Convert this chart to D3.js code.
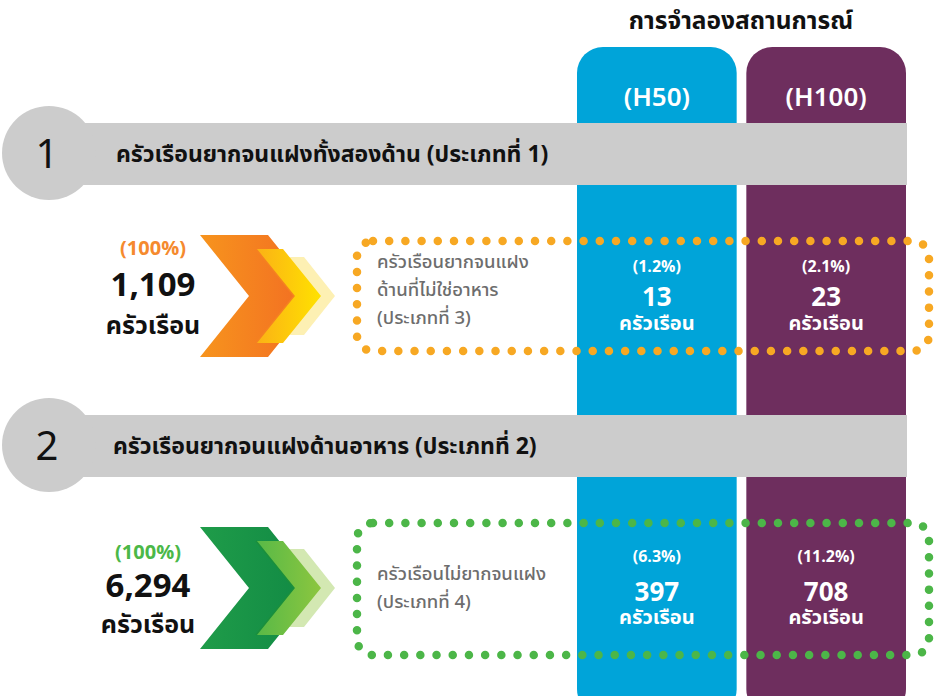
<!DOCTYPE html>
<html>
<head>
<meta charset="utf-8">
<script src="https://cdn.jsdelivr.net/npm/d3@7"></script>
<style>
body { margin: 0; background: #fff; }
text { font-family: "Noto Sans Thai", "Noto Sans Thai UI", "Noto Sans", "DejaVu Sans", sans-serif; }
</style>
</head>
<body>
<div id="main"></div>
<script>
// ข้อมูลของแผนภาพ
var groups = ["1", "2"];
var groupTitles = ["ครัวเรือนยากจนแฝงทั้งสองด้าน (ประเภทที่ 1)", "ครัวเรือนยากจนแฝงด้านอาหาร (ประเภทที่ 2)"];
var groupTotals = [1109, 6294];
var groupShares = [100, 100];
var boxLabels = [
	["ครัวเรือนยากจนแฝง", "ด้านที่ไม่ใช่อาหาร", "(ประเภทที่ 3)"],
	["ครัวเรือนไม่ยากจนแฝง", "(ประเภทที่ 4)"]
];
var scenarios = ["(H50)", "(H100)"];
var h50Values = [13, 397];
var h50Shares = [1.2, 6.3];
var h100Values = [23, 708];
var h100Shares = [2.1, 11.2];
var headerTitle = "การจำลองสถานการณ์";
var unitLabel = "ครัวเรือน";

var totalWidth = 936;
var totalHeight = 696;
var colorsBand = ["#00a4d9", "#6e2e5e"];
var themes = [
	{ text: "#f58a2e", dot: "#f7a823", big: ["#f7941d", "#f26a23"], mid: ["#fbb116", "#ffe200"], light: "#fdf0b3", edge: "#f58220" },
	{ text: "#4bb848", dot: "#4cb648", big: ["#1f9c49", "#108844"], mid: ["#58b947", "#8cc63f"], light: "#d3e8b2", edge: "#1a8f3c" }
];

var svg = d3.select("#main").append("svg")
	.attr("width", totalWidth)
	.attr("height", totalHeight);
var defs = svg.append("defs");

var fmtNum = d3.format(",");
var fmtPct = function(v) { return "(" + d3.format(".1f")(v) + "%)"; };
var fmtPct0 = function(v) { return "(" + d3.format("d")(v) + "%)"; };

// escalas: columnas de escenarios y desplazamiento vertical de cada grupo
var x = d3.scaleBand().domain(scenarios).range([577, 906]).paddingInner(0.057);
var yGroup = d3.scalePoint().domain(groups).range([0, 292]);

// columnas de escenarios
svg.selectAll("rect.col").data(scenarios).enter().append("rect")
	.attr("class", "col")
	.attr("x", function(d) { return x(d); })
	.attr("y", 47)
	.attr("width", x.bandwidth())
	.attr("height", 668)
	.attr("rx", 26)
	.attr("fill", function(d, i) { return colorsBand[i]; });

svg.selectAll("text.scen").data(scenarios).enter().append("text")
	.attr("class", "scen")
	.attr("x", function(d) { return x(d) + x.bandwidth() / 2; })
	.attr("y", 106)
	.attr("text-anchor", "middle")
	.attr("font-size", 26)
	.attr("font-weight", 600)
	.attr("fill", "#fff")
	.text(function(d) { return d; });

svg.append("text")
	.attr("x", 741)
	.attr("y", 29)
	.attr("text-anchor", "middle")
	.attr("font-size", 24.5)
	.attr("font-weight", "bold")
	.attr("fill", "#111")
	.text(headerTitle);

function gradiente(id, c) {
	var g = defs.append("linearGradient").attr("id", id)
		.attr("x1", "0%").attr("x2", "100%").attr("y1", "0%").attr("y2", "0%");
	g.append("stop").attr("offset", "0%").attr("stop-color", c[0]);
	g.append("stop").attr("offset", "100%").attr("stop-color", c[1]);
}

function chevron(x0, cy, h, w, d) {
	return "M" + x0 + "," + (cy - h) + " L" + (x0 + w) + "," + (cy - h) +
		" L" + (x0 + w + d) + "," + cy + " L" + (x0 + w) + "," + (cy + h) +
		" L" + x0 + "," + (cy + h) + " L" + (x0 + d) + "," + cy + " Z";
}

groups.forEach(function(gname, i) {
	var off = yGroup(gname);
	var t = themes[i];
	var cy = 296 + off;
	var g = svg.append("g");

	// banda gris con el número
	g.append("rect")
		.attr("x", 40).attr("y", 123 + off)
		.attr("width", 867).attr("height", 62)
		.attr("fill", "#cccccc");
	g.append("circle")
		.attr("cx", 49).attr("cy", 153 + off).attr("r", 47)
		.attr("fill", "#cccccc");
	g.append("text")
		.attr("x", 47).attr("y", 168 + off)
		.attr("text-anchor", "middle")
		.attr("font-size", 40)
		.attr("fill", "#111")
		.text(gname);
	g.append("text")
		.attr("x", i === 0 ? 116 : 113).attr("y", 162 + off)
		.attr("font-size", 23)
		.attr("font-weight", "bold")
		.attr("fill", "#111")
		.text(groupTitles[i]);

	// flechas
	gradiente("big" + i, t.big);
	gradiente("mid" + i, t.mid);
	g.append("path").attr("d", chevron(274, cy, 39, 30, 31)).attr("fill", t.light);
	g.append("path").attr("d", chevron(200, cy, 61, 68, 49)).attr("fill", "url(#big" + i + ")");
	g.append("path").attr("d", chevron(256, cy, 47, 27, 38)).attr("fill", "url(#mid" + i + ")");
	g.append("path")
		.attr("d", "M" + 256 + "," + (cy - 47) + " L" + (256 + 38) + "," + cy + " L" + 256 + "," + (cy + 47))
		.attr("fill", "none").attr("stroke", t.edge).attr("stroke-width", 1.5);

	// total del grupo
	var tx = i === 0 ? 153 : 148;
	var ty = i === 0 ? [255, 296, 334] : [559, 597, 633];
	g.append("text")
		.attr("x", tx).attr("y", ty[0]).attr("text-anchor", "middle")
		.attr("font-size", 20).attr("font-weight", "bold").attr("fill", t.text)
		.text(fmtPct0(groupShares[i]));
	g.append("text")
		.attr("x", tx).attr("y", ty[1]).attr("text-anchor", "middle")
		.attr("font-size", 33).attr("font-weight", "bold").attr("fill", "#111")
		.text(fmtNum(groupTotals[i]));
	g.append("text")
		.attr("x", tx).attr("y", ty[2]).attr("text-anchor", "middle")
		.attr("font-size", 25).attr("font-weight", "bold").attr("fill", "#111")
		.text(unitLabel);

	// caja punteada
	var top = i === 0 ? 241 : 523;
	var bottom = i === 0 ? 351 : 655;
	g.append("rect")
		.attr("x", 357).attr("y", top)
		.attr("width", 572).attr("height", bottom - top)
		.attr("rx", 16)
		.attr("fill", "none")
		.attr("stroke", t.dot)
		.attr("stroke-width", 8.5)
		.attr("stroke-linecap", "round")
		.attr("stroke-dasharray", "0 16.2");

	var lines = boxLabels[i];
	var ly0 = i === 0 ? 268 : 580;
	g.selectAll("text.lbl").data(lines).enter().append("text")
		.attr("class", "lbl")
		.attr("x", 377)
		.attr("y", function(d, k) { return ly0 + k * 28; })
		.attr("font-size", 18.5)
		.attr("font-weight", 500)
		.attr("fill", "#6d6d6d")
		.text(function(d) { return d; });

	// valores de escenarios
	var vals = [
		{ s: scenarios[0], v: h50Values[i], p: h50Shares[i] },
		{ s: scenarios[1], v: h100Values[i], p: h100Shares[i] }
	];
	var vy = i === 0 ? [272, 306, 330] : [562, 601, 624];
	vals.forEach(function(o) {
		var cx = x(o.s) + x.bandwidth() / 2;
		g.append("text").attr("x", cx).attr("y", vy[0]).attr("text-anchor", "middle")
			.attr("font-size", 16).attr("font-weight", "bold").attr("fill", "#fff")
			.text(fmtPct(o.p));
		g.append("text").attr("x", cx).attr("y", vy[1]).attr("text-anchor", "middle")
			.attr("font-size", 26).attr("font-weight", "bold").attr("fill", "#fff")
			.text(fmtNum(o.v));
		g.append("text").attr("x", cx).attr("y", vy[2]).attr("text-anchor", "middle")
			.attr("font-size", 20).attr("font-weight", "bold").attr("fill", "#fff")
			.text(unitLabel);
	});
});
</script>
</body>
</html>
